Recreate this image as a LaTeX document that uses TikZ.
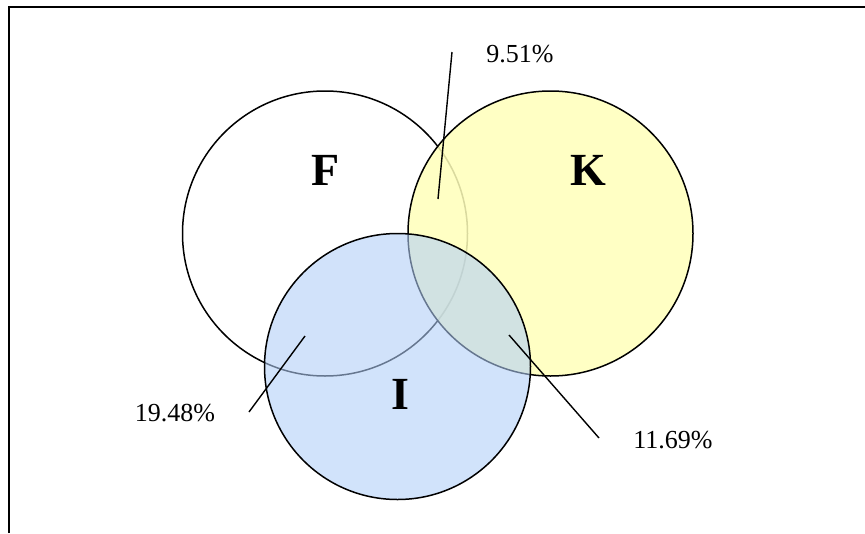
\documentclass[tikz,border=0pt]{standalone}
\usepackage{xcolor}
\usepackage{fontspec}
\setmainfont{Liberation Serif}
\usepackage{tikz}
\usetikzlibrary{positioning}
\definecolor{setyellow}{HTML}{FFFFBA}
\definecolor{setblue}{HTML}{B0CEF8}

\begin{document}
\begin{tikzpicture}[x=1pt, y=-1pt,
    setcircle/.style={circle, draw=black, line width=1.5pt, inner sep=0pt},
    setname/.style={font=\fontsize{46}{50}\selectfont\bfseries},
    share/.style={font=\fontsize{26}{30}\selectfont},
    pointer/.style={draw=black, line width=1.4pt}]
    \useasboundingbox (0,0) rectangle (865,533);
    \draw[line width=1.8pt] (9,533) -- (9,7) -- (865,7);
    % the three sets
    \node[setcircle, fill=white, minimum size=285pt] (F) at (325,233.5) {};
    \node[setcircle, fill=setyellow, fill opacity=0.85, minimum size=285pt] (K) at (550.5,233.5) {};
    \node[setcircle, fill=setblue, fill opacity=0.58, minimum size=266pt] (I) at (397.5,366.5) {};
    \node[setname] (nameF) at (326,170) {F};
    \node[setname] (nameK) at (588,170) {K};
    \node[setname] (nameI) at (400,394) {I};
    % shares of the overlaps
    \node[share] (shareFK) at (520,54) {9.51\%};
    \node[share] (shareFI) at (175,413) {19.48\%};
    \node[share] (shareKI) at (673,440) {11.69\%};
    \coordinate (inFK) at (438,199);
    \coordinate (tipFK) at (452,52);
    \coordinate (inFI) at (305,336);
    \coordinate (tipFI) at (249,412);
    \coordinate (inKI) at (509,335);
    \coordinate (tipKI) at (599,438);
    \draw[pointer] (inFK) -- (tipFK);
    \draw[pointer] (inFI) -- (tipFI);
    \draw[pointer] (inKI) -- (tipKI);
\end{tikzpicture}
\end{document}
